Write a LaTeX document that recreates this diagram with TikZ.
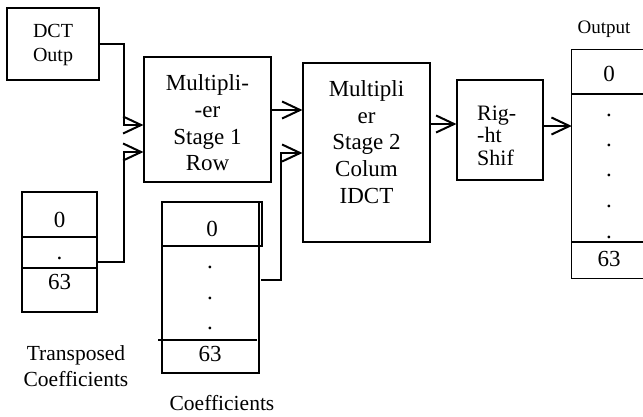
\documentclass[tikz,border=0pt]{standalone}
\usepackage{fontspec}
\setmainfont{Liberation Serif}
\usetikzlibrary{arrows.meta}
\begin{document}
\begin{tikzpicture}[x=1pt,y=-1pt,
  box/.style={draw,line width=1.1pt,rectangle,inner sep=0pt},
  big/.style={font=\fontsize{23}{26.7}\selectfont,align=center,inner sep=0pt},
  mid/.style={font=\fontsize{20}{24.5}\selectfont,align=center,inner sep=0pt},
  rsf/.style={font=\fontsize{22}{22.5}\selectfont,align=left,inner sep=0pt},
  dig/.style={font=\fontsize{23}{26}\selectfont,inner sep=0pt},
  dotn/.style={font=\fontsize{23}{26}\selectfont,inner sep=0pt},
  lab/.style={font=\fontsize{21.5}{24}\selectfont,inner sep=0pt},
  thinline/.style={line width=1.1pt},
  thickline/.style={line width=2pt},
  conn/.style={line width=2pt},
  arr/.style={conn,-{Straight Barb[length=18pt,width=17pt,line width=2pt]}}
]
\useasboundingbox (0,0) rectangle (643,416);

% DCT output
\node[box,minimum width=92pt,minimum height=72pt] (dct) at (53,44) {};
\node[mid] (dctt) at (53,45) {DCT\\Outp};

% Stage 1
\node[box,minimum width=127pt,minimum height=125pt] (s1) at (207.5,119.5) {};
\node[big] (s1t) at (207.5,123) {Multipli-\\-er\\Stage 1\\Row};

% Stage 2
\node[box,minimum width=127pt,minimum height=179pt] (s2) at (366.5,152.5) {};
\node[big] (s2t) at (366.5,142) {Multipli\\er\\Stage 2\\Colum\\IDCT};

% Right shift
\node[box,minimum width=86pt,minimum height=100pt] (rs) at (500,130) {};
\node[rsf,anchor=west] (rst) at (477,135.5) {Rig-\\-ht\\Shif};

% Transposed coefficients
\node[box,minimum width=75pt,minimum height=120pt] (tr) at (59.5,252) {};
\draw[thinline] (tr.west |- 0,237) -- (tr.east |- 0,237);
\draw[thickline] (tr.west |- 0,268) -- (tr.east |- 0,268);
\node[dig] (tr0) at (59.5,220) {0};
\node[dotn] (trd) at (59.5,258) {.};
\node[dig] (tr63) at (59.5,282) {63};
\node[lab] (trl1) at (76,355) {Transposed};
\node[lab] (trl2) at (76,379) {Coefficients};

% Coefficients
\node[box,minimum width=97pt,minimum height=171pt] (cf) at (210.5,287.5) {};
\node[box,minimum width=100pt,minimum height=44pt] (cf0c) at (212,224) {};
\draw[thinline] (158,340) -- (257,340);
\node[dig] (cf0) at (212,228.5) {0};
\node[dotn] (cfd1) at (210,267) {.};
\node[dotn] (cfd2) at (210,298) {.};
\node[dotn] (cfd3) at (210,328) {.};
\node[dig] (cf63) at (210,354) {63};
\node[lab] (cfl) at (222,403) {Coefficients};

% Output
\node[minimum width=74pt,minimum height=228pt,inner sep=0pt] (out) at (609,164) {};
\draw[thinline] (out.north east) -- (out.north west) -- (out.south west) -- (out.south east);
\draw[line width=1.5pt] (out.west |- 0,94) -- (out.east |- 0,94);
\draw[thickline] (out.west |- 0,242) -- (out.east |- 0,242);
\node[dig] (o0) at (609,74) {0};
\node[dotn] (od1) at (609,115) {.};
\node[dotn] (od2) at (609,145) {.};
\node[dotn] (od3) at (609,175) {.};
\node[dotn] (od4) at (609,206) {.};
\node[dotn] (od5) at (609,237) {.};
\node[dig] (o63) at (609,259) {63};
\node[lab,font=\fontsize{19}{22}\selectfont] (ol) at (604,29) {Output};

% connectors
\coordinate (j1) at (124,125);
\coordinate (j2) at (124,152);
\coordinate (j3) at (281,153);
\coordinate (tout) at (97,262);
\coordinate (cout) at (261,280);
\coordinate (y1) at (0,110);
\coordinate (y2) at (0,124);
\coordinate (y3) at (0,126);
\draw[arr] (dct.east) -| (j1) -- (j1 -| s1.west);
\draw[arr] (tout) -| (j2) -- (j2 -| s1.west);
\draw[arr] (y1 -| s1.east) -- (y1 -| s2.west);
\draw[arr] (cout) -| (j3) -- (j3 -| s2.west);
\draw[arr] (y2 -| s2.east) -- (y2 -| rs.west);
\draw[arr] (y3 -| rs.east) -- (y3 -| out.west);
\end{tikzpicture}
\end{document}
